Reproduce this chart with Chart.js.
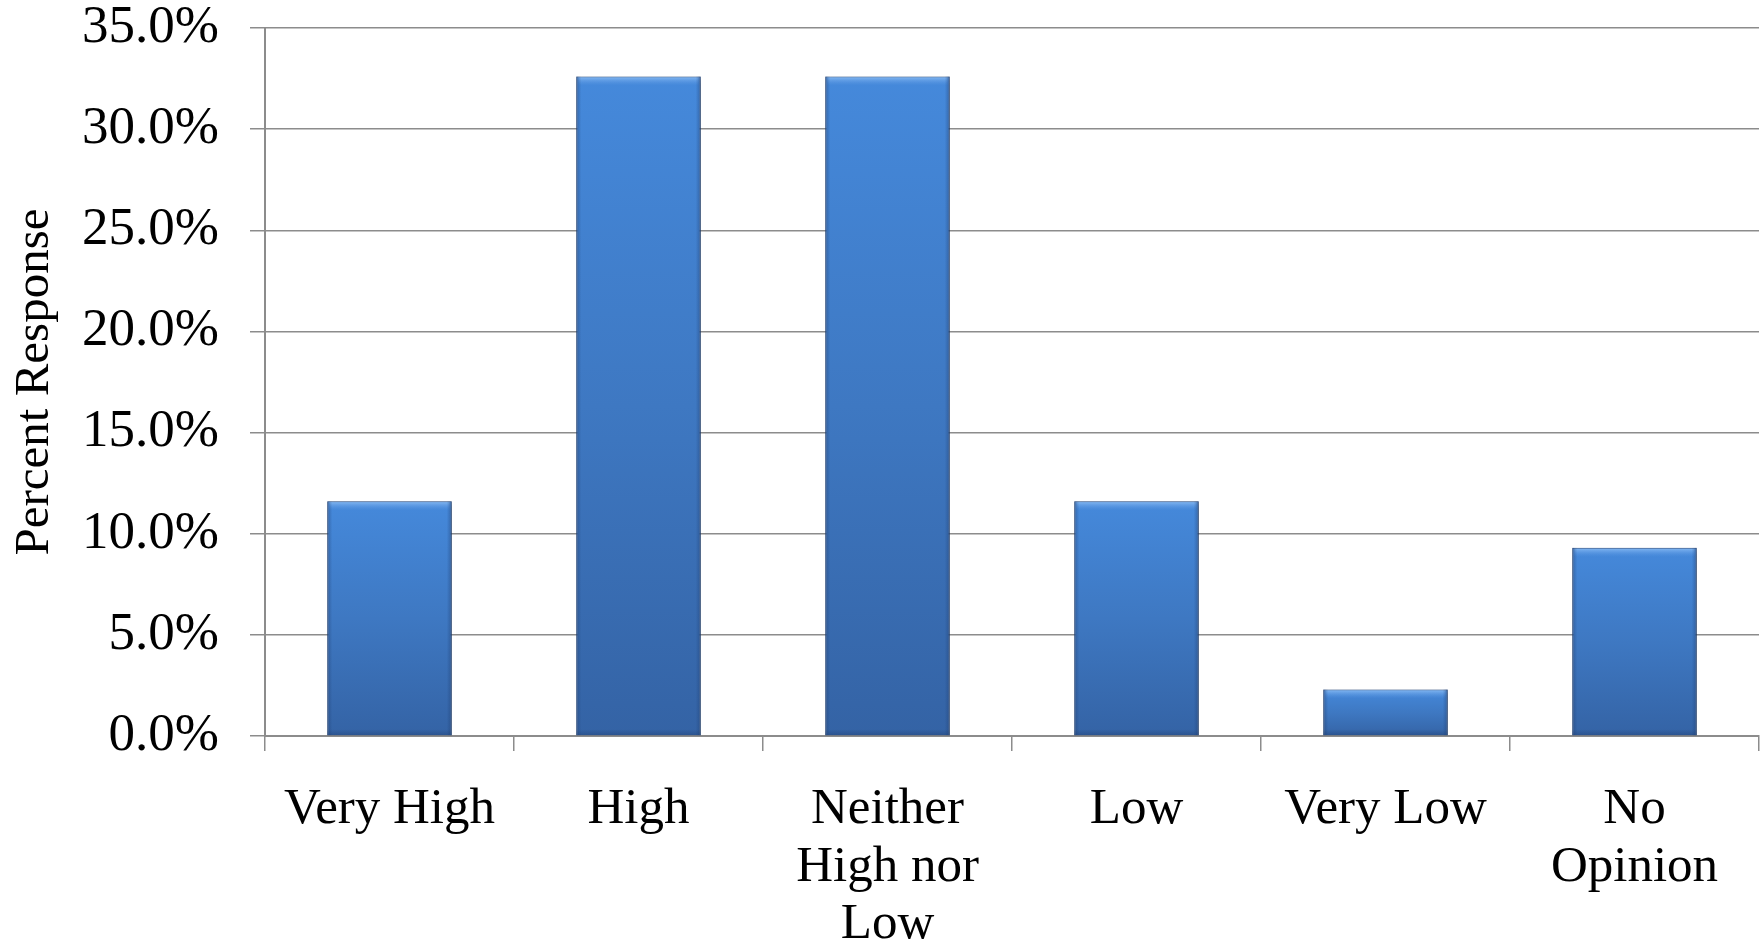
<!DOCTYPE html>
<html>
<head>
<meta charset="utf-8">
<script src="https://cdn.jsdelivr.net/npm/chart.js@4"></script>
<style>
  html, body { margin: 0; padding: 0; background: #fff; }
  #wrap { width: 1762px; height: 941px; }
</style>
</head>
<body>
<div id="wrap"><canvas id="myChart"></canvas></div>
<script>
const categories = ['Very High', 'High', ['Neither', 'High nor', 'Low'], 'Low', 'Very Low', ['No', 'Opinion']];
const responses = [11.6, 32.6, 32.6, 11.6, 2.3, 9.3];
const yTicks = [0, 5, 10, 15, 20, 25, 30, 35];

const serif = 'Liberation Serif, Times New Roman, serif';
const gridGray = '#8c8c8c';

// gradient for each bar, from its own top down to the baseline
function barFill(context) {
  const chart = context.chart;
  const area = chart.chartArea;
  if (!area) return '#3d7cc9';
  const y = chart.scales.y;
  const top = y.getPixelForValue(context.raw);
  const base = y.getPixelForValue(0);
  const g = chart.ctx.createLinearGradient(0, top, 0, base);
  g.addColorStop(0, '#4589db');
  g.addColorStop(0.5, '#3e78c2');
  g.addColorStop(1, '#3463a5');
  return g;
}

// soft shadow and bevel look on the bars
const bevel = {
  id: 'bevel',
  beforeDatasetsDraw(chart) {
    const ctx = chart.ctx;
    ctx.save();
    ctx.shadowColor = 'rgba(0,0,0,0.35)';
    ctx.shadowBlur = 6;
    ctx.shadowOffsetX = 2;
    ctx.shadowOffsetY = 2;
  },
  afterDatasetsDraw(chart) {
    const ctx = chart.ctx;
    ctx.restore();
    ctx.save();
    chart.getDatasetMeta(0).data.forEach(bar => {
      const l = bar.x - bar.width / 2, r = bar.x + bar.width / 2;
      const t = bar.y, b = bar.base;
      // light top strip
      const tg = ctx.createLinearGradient(0, t, 0, t + 9);
      tg.addColorStop(0, 'rgba(140,190,245,0.95)');
      tg.addColorStop(1, 'rgba(90,150,225,0)');
      ctx.fillStyle = tg;
      ctx.fillRect(l + 2, t + 1, r - l - 4, 9);
      // darker side edges
      const lg = ctx.createLinearGradient(l, 0, l + 5, 0);
      lg.addColorStop(0, 'rgba(30,60,110,0.45)');
      lg.addColorStop(1, 'rgba(30,60,110,0)');
      ctx.fillStyle = lg;
      ctx.fillRect(l, t, 5, b - t);
      const rg = ctx.createLinearGradient(r, 0, r - 5, 0);
      rg.addColorStop(0, 'rgba(30,60,110,0.45)');
      rg.addColorStop(1, 'rgba(30,60,110,0)');
      ctx.fillStyle = rg;
      ctx.fillRect(r - 5, t, 5, b - t);
      // darker bottom
      const bg = ctx.createLinearGradient(0, b, 0, b - 6);
      bg.addColorStop(0, 'rgba(30,60,110,0.4)');
      bg.addColorStop(1, 'rgba(30,60,110,0)');
      ctx.fillStyle = bg;
      ctx.fillRect(l, b - 6, r - l, 6);
    });
    ctx.restore();
  }
};

var ctx = document.getElementById('myChart');

const chart = new Chart(ctx, {
  type: 'bar',
  data: {
    labels: categories,
    datasets: [{
      label: 'Percent Response',
      data: responses,
      backgroundColor: barFill,
      borderColor: '#2b5289',
      borderWidth: 1,
      barPercentage: 0.5,
      categoryPercentage: 1
    }]
  },
  plugins: [bevel],
  options: {
    responsive: true,
    maintainAspectRatio: false,
    animation: false,
    layout: { padding: { top: 28, right: 3, left: 0, bottom: 0 } },
    plugins: {
      legend: { display: false },
      tooltip: { enabled: false }
    },
    scales: {
      x: {
        afterFit(scale) { scale.height = 205; },
        grid: {
          offset: true,
          drawOnChartArea: false,
          drawTicks: true,
          tickLength: 15,
          color: gridGray,
          lineWidth: 1.5
        },
        border: { color: gridGray, width: 2 },
        ticks: {
          color: '#000',
          padding: 30,
          maxRotation: 0,
          autoSkip: false,
          font: { family: serif, size: 51, lineHeight: 1.13 }
        }
      },
      y: {
        min: 0,
        max: 35,
        afterFit(scale) {
          scale.width = 265;
          // let the top tick label overhang the layout padding
          scale.paddingTop = 0;
          scale.paddingBottom = 0;
        },
        afterBuildTicks(scale) { scale.ticks = yTicks.map(v => ({ value: v })); },
        grid: {
          color: gridGray,
          lineWidth: 1.5,
          tickLength: 15
        },
        border: { color: gridGray, width: 2 },
        ticks: {
          color: '#000',
          padding: 31,
          font: { family: serif, size: 53 },
          callback: v => v.toFixed(1) + '%'
        },
        title: {
          display: true,
          text: 'Percent Response',
          color: '#000',
          padding: { top: 6, bottom: 0 },
          font: { family: serif, size: 49, lineHeight: 1.2 }
        }
      }
    }
  }
});
</script>
</body>
</html>
